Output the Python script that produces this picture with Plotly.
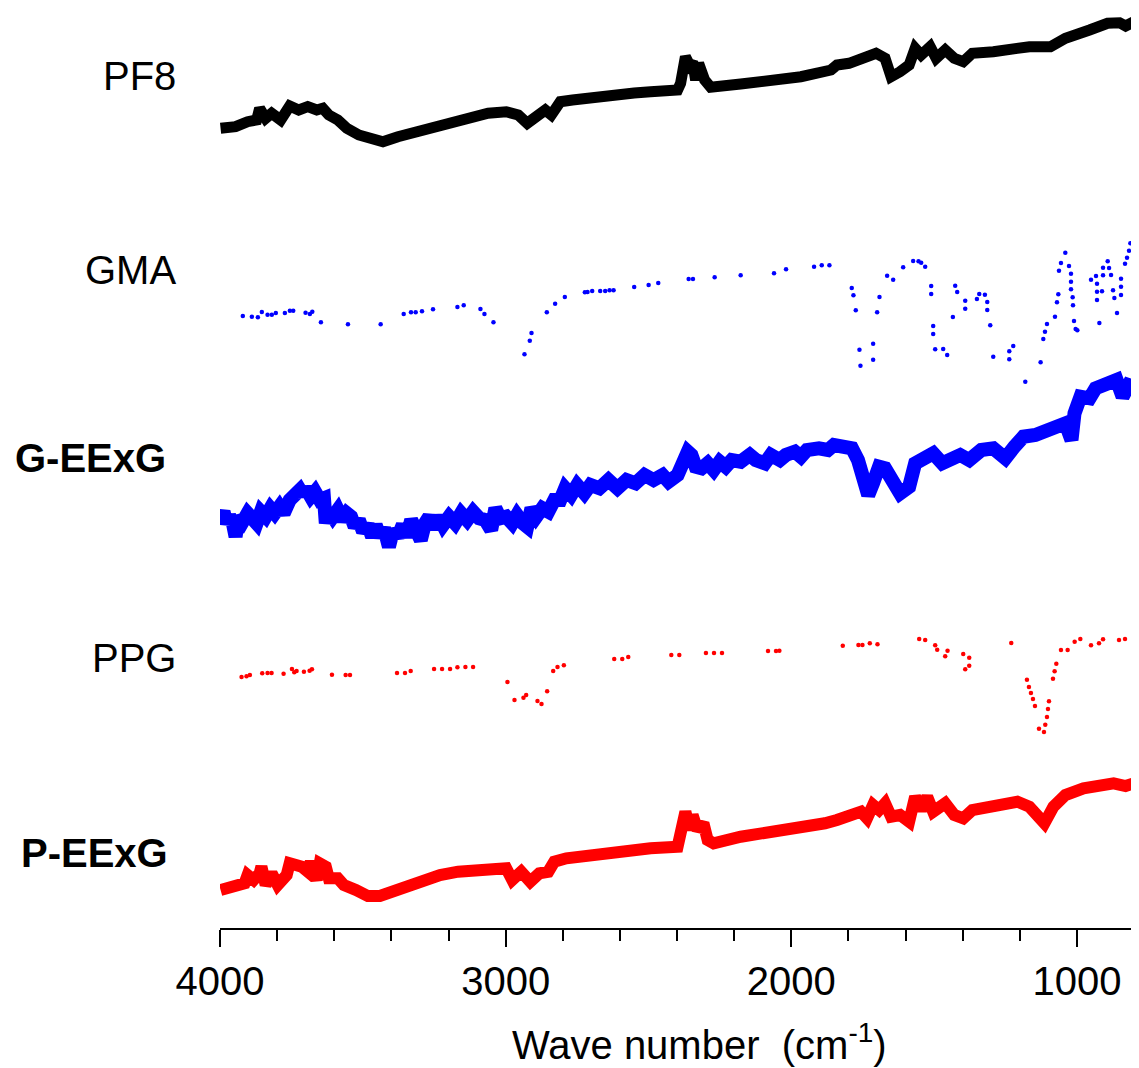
import plotly.graph_objects as go

# ---------------- data (wave number, cm-1 ; relative transmittance, a.u.) ----------------
pf8_wn = [3998, 3945.5, 3903.4, 3871.8, 3861.3, 3840.2, 3819.2, 3787.6, 3756, 3724.4, 3692.8, 3661.2,
          3640.2, 3619.2, 3587.5, 3556, 3513.9, 3461.2, 3429.6, 3377, 3313.8, 3229.6, 3145.4, 3061.2,
          2998, 2955.9, 2924.3, 2892.7, 2861.2, 2840, 2808.5, 2766, 2724.3, 2680, 2640, 2598, 2550,
          2492.6, 2440, 2398, 2387.4,
          2370.6, 2355.8, 2345.3, 2334.8, 2324.2, 2303.2, 2282.1, 2176.9, 2071.6, 1966.3, 1861, 1840,
          1797.9, 1755.8, 1724.2, 1703.2, 1671.5, 1650.5, 1619, 1587.3, 1566.3, 1545.2, 1513.6, 1492.5,
          1461, 1429.4, 1397.8, 1366.2, 1292.5, 1166.2, 1092.5, 1040, 955.6, 892.5, 850.4, 829.3, 800]
pf8_t = [19.7, 21.3, 26.3, 28, 39.7, 29.7, 34.7, 28, 42, 38, 41.3, 38,
         39.7, 33, 28, 19.7, 13, 8.7, 6.3, 11.3, 16.3, 23, 29.7, 34.7,
         36.3, 33, 24.7, 33, 38, 33, 46.3, 48, 49.7, 51, 52.5, 53, 55,
         56.3, 57, 58, 64.7,
         91.3, 83, 86.3, 68, 84.7, 68, 60.7, 64, 67, 71.3, 78, 83,
         84.7, 88, 93, 94.7, 89.7, 71.3, 76.3, 83, 99.7, 93, 101.3, 89.7,
         98, 89.7, 86.3, 94.7, 96.3, 101.3, 101.3, 109.7, 118, 124.7, 125.3, 122, 126.3]

geexg_wn = [3998, 3987.6, 3977, 3966.5, 3956, 3945.5, 3935, 3920.2, 3903.4, 3886.5, 3871.8, 3857,
            3840.2, 3823.4, 3808.6, 3791.8, 3777, 3756, 3734.9, 3720.2, 3709.7, 3699.1, 3682.3, 3667.5,
            3650.7, 3636, 3629.6, 3619.1, 3604.4, 3587.5, 3570.7, 3556, 3541.2, 3528.6, 3513.9, 3499.1,
            3482.3, 3467.5, 3454.9, 3440.2, 3425.4, 3408.6, 3393.8, 3377, 3360.1, 3345.4, 3330.6, 3313.8,
            3297, 3282.2, 3267.5, 3250.7, 3233.8, 3219.1, 3198, 3177, 3155.9, 3134.8, 3113.8, 3092.7,
            3071.7, 3050.6, 3035.9, 3019, 2998, 2977, 2960.1, 2939, 2924.3, 2909.6, 2892.7, 2871.7,
            2850.6, 2829.6, 2808.5, 2791.6, 2770.6, 2749.5, 2724.3, 2703.2, 2671.7, 2640.1, 2608.5, 2576.9,
            2545.3, 2513.7, 2482.1, 2450.6, 2429.5, 2397.9, 2376.9, 2362.2, 2349.5, 2334.8, 2313.8, 2292.7,
            2271.6, 2250.6, 2229.5, 2208.4, 2176.9, 2145.3, 2124.2, 2092.6, 2071.6, 2040, 2019, 1987.4,
            1966.3, 1945.2, 1903.1, 1871.5, 1850.7, 1818.9, 1787.4, 1766.3, 1745.2,
            1730.5, 1713.7, 1692.6, 1671.5, 1650.5, 1619, 1587.3, 1566.3, 1534.7, 1503.1, 1471.5, 1440,
            1408.4, 1376.8, 1334.7, 1292.5, 1250.4, 1218.9, 1187.3, 1145.2, 1103.1, 1071.5, 1040, 1018.8,
            1008.3, 987.3, 955.6, 934.6, 892.5, 861, 840, 818.8, 800]
geexg_t = [29.7, 36.3, 24.7, 31.3, 26.3, 11.3, 31.3, 26.3, 34.7, 29.7, 24.7, 36.3,
           31.3, 39.7, 34.7, 41.3, 34.7, 48, 54.7, 58, 53, 59.7, 51.3, 56.3,
           48, 49.7, 24.7, 38, 31.3, 38, 28, 34.7, 31.3, 21.3, 28, 16.3,
           23, 11.3, 23, 11.3, 19.7, 1.3, 18, 11.3, 23, 11.3, 28, 18,
           8, 24.7, 31.3, 19.7, 31.3, 23, 31.3, 24.7, 34.7, 28, 36.3, 29.7,
           28, 18, 39.7, 29.7, 31.3, 24.7, 33, 24.7, 21.3, 39.7, 31.3, 39.7,
           36.3, 48, 48, 59.7, 53, 63, 54.7, 63, 59.7, 68, 59.7, 68,
           64.7, 73, 68, 73, 66.3, 73, 84.7, 96.3, 93, 81.3, 79.7, 84.7,
           78, 86.3, 81.3, 88, 86.3, 93, 88, 84.7, 93, 88, 93, 96.3,
           91.3, 98, 99.7, 98, 103, 103, 99.7, 88, 71.3,
           53, 64.7, 81.3, 79.7, 69.7, 54.7, 61.3, 84.7, 89.7, 94.7, 84.7, 88,
           93, 88, 98, 99.7, 89.7, 101.3, 111.3, 113, 118, 119.7, 124.7, 108,
           134.7, 151.3, 149.7, 159.7, 164.7, 168, 151.3, 163, 161.3]

peexg_wn = [3998, 3945.5, 3913.9, 3903.4, 3882.3, 3861.3, 3855, 3840.2, 3819.2, 3798.1, 3766.5, 3756,
            3734.9, 3713.9, 3692.8, 3682.3, 3661.2, 3650.7, 3629.6, 3619.1, 3587.5, 3566.5, 3524.4, 3482.3,
            3440.2, 3398, 3355.9, 3292.8, 3229.6, 3166.4, 3103.3, 3040.1, 2998, 2976.9, 2945.4, 2913.8,
            2882.2, 2850.6, 2829.6, 2787.4, 2703.2, 2598, 2492.6, 2398, 2387.4, 2370.6, 2355.8, 2345.3,
            2328.4, 2307.4, 2292.7, 2271.6, 2176.9, 2071.6, 1966.3, 1882.1, 1840, 1797.9, 1755.8, 1734.7,
            1713.6, 1692.6, 1671.5, 1650.5, 1619, 1587.3, 1566.3, 1545.2, 1524.1, 1503.1, 1461, 1429.4,
            1397.8, 1366.2, 1292.5, 1208.3, 1166.2, 1134.6, 1113.6, 1082, 1040, 976.7, 913.6, 871.4,
            829.3, 800]
peexg_t = [8, 11.3, 14.7, 23, 18, 24.7, 31.3, 13, 24.7, 13, 23, 34.7,
           33, 31.3, 26.3, 36.3, 18, 34.7, 31.3, 19.7, 19.7, 13, 8, 2,
           2, 6.3, 11.3, 19.7, 23, 26.3, 28, 31.3, 29.7, 18, 26.3, 16.3,
           24.7, 26.3, 36.3, 39.7, 43, 46.3, 49.7, 51.3, 66.3, 86.3, 68, 83,
           68, 74.7, 58, 54.7, 61.3, 65.3, 69.7, 74.7, 78, 83, 86.3, 79.7,
           93, 88, 94.7, 81.3, 83, 76.3, 101.3, 88, 101.3, 86.3, 94.7, 83,
           79.7, 88, 91.3, 96.3, 91.3, 81.3, 74.7, 91.3, 103, 109.7, 112, 114.7,
           112, 114.7]

gma_wn = [3920.1, 3888.5, 3867.5, 3853.5, 3833.5, 3818.5, 3804.5, 3772.9, 3755.4, 3743.6, 3700.4, 3685.3,
          3676.9, 3646.7, 3552, 3437.5, 3356.9, 3331.3, 3314.9, 3292.8, 3254.2, 3168.8, 3146.7, 3088.2,
          3074.2, 3042.6, 2934, 2915.4, 2909.4, 2855.8, 2826.7, 2792.7, 2722.6, 2713.2, 2697, 2668.9,
          2651.4, 2636.1, 2622.1, 2549.8, 2499.4, 2465.6, 2359.2, 2344.1, 2268.2, 2177.1, 2060.3, 2018.2,
          1920.1, 1893.2, 1866.4, 1788.1, 1782.3, 1774.1, 1761.2, 1757.7, 1713.3, 1713.3, 1699.3, 1691.1,
          1664.3, 1643.2, 1608.2, 1573.2, 1554.4, 1545.1, 1531.1, 1510.1, 1510.1, 1503.1, 1503.1, 1496.1,
          1468.0, 1454.0, 1434.1, 1426, 1419, 1390.9, 1390.9, 1350.0, 1341.8, 1322.0, 1313.8, 1313.8,
          1303.3, 1292.8, 1236.7, 1236.7, 1222.7, 1180.6, 1127, 1117.6, 1111.7, 1104.7, 1076.7, 1069.7,
          1065, 1062.7, 1055.7, 1040.5, 1027.6, 1020.6, 1020.6, 1020.6, 1014.8, 1013.6, 1010.1, 1004.3,
          998.4, 950.5, 933, 929.5, 929.5, 929.5, 921.3, 912, 908.4, 908.4, 892.1, 887.4,
          880.4, 873.4, 868.8, 859.4, 845.4, 845.4, 845.4, 831.4, 824.4, 817.4, 812.7]
gma_t = [72, 71.3, 70.7, 76, 73.3, 73.3, 75, 75, 77.3, 77.3, 75.3, 74,
         76.3, 65.7, 63.7, 63.7, 74, 75.7, 75.7, 76.7, 78.7, 81, 82.7, 79,
         74, 65.7, 33.7, 47.3, 55, 75.7, 84.3, 91, 95.7, 96, 97, 97,
         97, 97.7, 97.7, 101, 103, 105, 109, 109, 110.7, 112.7, 114.7, 118.7,
         121.3, 122.7, 122.7, 100, 92.7, 77.7, 38.3, 22.3, 28.3, 44.3, 75.7, 91,
         112.3, 108.3, 120.7, 127, 126.7, 125.3, 121.3, 102, 94, 62, 54, 38.7,
         39, 33, 71, 102.3, 96, 87.3, 79.3, 89, 94, 93.3, 86, 78,
         62.7, 31.3, 36.7, 28.7, 42, 6.3, 25.7, 49, 56.3, 64, 71.3, 85.7,
         93.7, 117.3, 125, 135.3, 122, 114.3, 106.3, 98.7, 90.7, 82.7, 67, 59,
         57.7, 108.3, 112, 104.3, 96.3, 88, 65, 96.7, 120.3, 112.7, 126.7, 120,
         113, 97.7, 90, 75, 93, 101.3, 109.3, 124.3, 130.3, 137.3, 144.7]

ppg_wn = [3924.6, 3907.1, 3895.4, 3852.2, 3833.5, 3819.5, 3777.4, 3748.2, 3740, 3731.9, 3706.2, 3686.3,
          3678.1, 3608, 3560.1, 3544.9, 3380.2, 3352.2, 3332.4, 3250.6, 3222.5, 3194.5, 3168.8, 3140.8,
          3113.9, 2993.6, 2969, 2937.5, 2928.1, 2888.5, 2874.4, 2854.6, 2833.5, 2818.4, 2796.1, 2619.8,
          2591.7, 2570.7, 2420, 2392, 2298.6, 2270.5, 2242.5, 2081.3, 2053.3, 2041.6, 1819.6, 1764.7,
          1750.7, 1725, 1698.1, 1552.1, 1531.1, 1496.1, 1489, 1461, 1452.8, 1397.9, 1390.9, 1376.9,
          1376.9, 1229.7, 1174.8, 1167.8, 1160.8, 1153.7, 1146.7, 1132.7, 1115.2, 1110.6, 1104.7, 1101.2,
          1097.7, 1083.7, 1077.9, 1072, 1055.7, 1032.3, 1007.8, 987.9, 950.5, 922.5, 908.4, 852.4, 831.4]
ppg_t = [61, 61.7, 63, 64.7, 65, 65, 64.3, 69, 65.7, 67, 66.3, 67.3,
         68.7, 63.3, 63, 63, 65, 65, 67, 69, 69, 69, 70.7, 71,
         71, 56, 38, 40.3, 43, 37, 34, 46.7, 67, 71, 72.7, 79,
         79, 81, 83, 83, 85, 85, 85, 87, 87, 87.3, 92.3, 93,
         93, 94.7, 93.7, 99, 98, 92.7, 88.3, 81.7, 87.3, 84, 68.7, 80.3,
         72.3, 95, 58.3, 51, 45, 39, 32, 9.3, 6, 13.3, 21, 29,
         36.7, 59.3, 66.7, 74.3, 88, 88, 96.3, 99, 92.7, 94.7, 98.7, 98, 99]

series_names = ["PF8", "GMA", "G-EExG", "PPG", "P-EExG"]
major_ticks = [4000, 3000, 2000, 1000]
tick_labels = ["4000", "3000", "2000", "1000"]

# ---------------- layout parameters ----------------
offsets = {"PF8": 780, "GMA": 540, "G-EExG": 380, "PPG": 190, "P-EExG": 30}
label_dy = {"PF8": 72, "GMA": 118, "G-EExG": 90, "PPG": 80, "P-EExG": 45}
label_bold = {"PF8": False, "GMA": False, "G-EExG": True, "PPG": False, "P-EExG": True}
label_x = {"PF8": -0.046, "GMA": -0.046, "G-EExG": -0.057, "PPG": -0.046, "P-EExG": -0.055}

FONT = "Liberation Sans, Arial, sans-serif"

fig = go.Figure()

def shift(vals, off):
    return [v + off for v in vals]

fig.add_trace(go.Scatter(x=pf8_wn, y=shift(pf8_t, offsets["PF8"]), mode="lines",
                         line=dict(color="#000000", width=11), name="PF8"))
fig.add_trace(go.Scatter(x=gma_wn, y=shift(gma_t, offsets["GMA"]), mode="markers",
                         marker=dict(color="#0000FF", size=4.5), name="GMA", cliponaxis=False))
fig.add_trace(go.Scatter(x=geexg_wn, y=shift(geexg_t, offsets["G-EExG"]), mode="lines",
                         line=dict(color="#0000FF", width=14), name="G-EExG"))
fig.add_trace(go.Scatter(x=ppg_wn, y=shift(ppg_t, offsets["PPG"]), mode="markers",
                         marker=dict(color="#FF0000", size=4.5), name="PPG", cliponaxis=False))
fig.add_trace(go.Scatter(x=peexg_wn, y=shift(peexg_t, offsets["P-EExG"]), mode="lines",
                         line=dict(color="#FF0000", width=12), name="P-EExG"))

annotations = []
for name in series_names:
    txt = "<b>%s</b>" % name if label_bold[name] else name
    annotations.append(dict(text=txt, xref="paper", yref="y", x=label_x[name],
                            y=offsets[name] + label_dy[name], xanchor="right", yanchor="middle",
                            showarrow=False, font=dict(family=FONT, size=40, color="black")))
annotations.append(dict(text="Wave number  (cm<sup>-1</sup>)", xref="paper", yref="paper",
                        x=0.525, y=-0.124, xanchor="center", yanchor="middle", showarrow=False,
                        font=dict(family=FONT, size=40, color="black")))

fig.update_layout(
    width=1131, height=1060,
    margin=dict(l=212, r=5, t=0, b=140),
    paper_bgcolor="white", plot_bgcolor="white",
    showlegend=False,
    annotations=annotations,
    xaxis=dict(range=[4000, 800], showgrid=False, zeroline=False,
               showline=True, linecolor="black", linewidth=2,
               tickmode="array", tickvals=major_ticks, ticktext=tick_labels,
               ticks="outside", ticklen=17, tickwidth=2, tickcolor="black",
               tickfont=dict(family=FONT, size=40, color="black"),
               minor=dict(dtick=200, tick0=0, ticks="outside", ticklen=11, tickwidth=2,
                          tickcolor="black", showgrid=False)),
    yaxis=dict(range=[0, 920], visible=False, fixedrange=True),
)

fig.write_html("out.html")
